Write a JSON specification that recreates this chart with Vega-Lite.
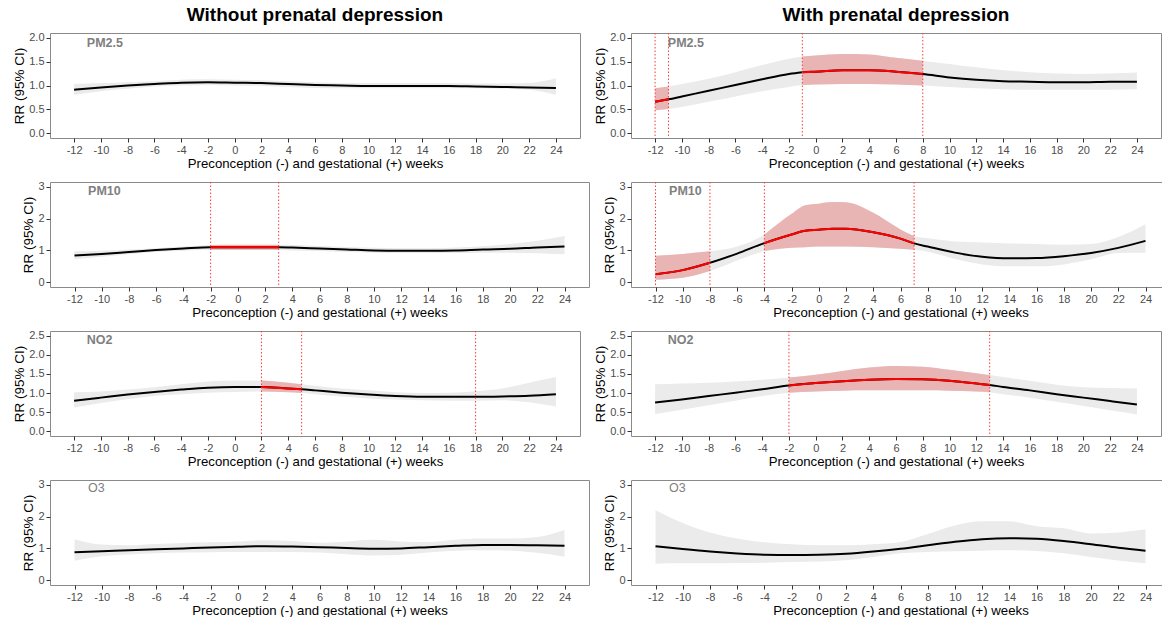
{
"$schema": "https://vega.github.io/schema/vega-lite/v6.json",
"padding": {"left": 12, "top": 5, "right": 3, "bottom": 0},
"background": "white",
"config": {
 "font": "Liberation Sans",
 "view": {"stroke": "#8A8A8A", "strokeWidth": 1},
 "axis": {"grid": false, "domain": false, "tickColor": "#333333", "tickSize": 4, "labelColor": "#4D4D4D", "labelFontSize": 11, "labelPadding": 2, "titleFontWeight": "normal", "titleFontSize": 13.5, "titleColor": "black", "titlePadding": 2},
 "axisX": {"titleFontSize": 13.2, "titlePadding": 2},
 "title": {"fontSize": 19, "fontWeight": "bold", "anchor": "middle", "offset": 7, "color": "black"}
},
"datasets": {
 "curves": [
  {"panel":"L1","week":-12,"rr":0.91,"lower":0.80,"upper":1.03},
  {"panel":"L1","week":-10,"rr":0.96,"lower":0.88,"upper":1.05},
  {"panel":"L1","week":-8,"rr":1.00,"lower":0.93,"upper":1.07},
  {"panel":"L1","week":-6,"rr":1.03,"lower":0.98,"upper":1.09},
  {"panel":"L1","week":-4,"rr":1.06,"lower":1.00,"upper":1.12},
  {"panel":"L1","week":-2,"rr":1.07,"lower":1.01,"upper":1.13},
  {"panel":"L1","week":0,"rr":1.06,"lower":1.00,"upper":1.12},
  {"panel":"L1","week":2,"rr":1.05,"lower":0.99,"upper":1.11},
  {"panel":"L1","week":4,"rr":1.03,"lower":0.97,"upper":1.09},
  {"panel":"L1","week":6,"rr":1.01,"lower":0.95,"upper":1.07},
  {"panel":"L1","week":8,"rr":1.00,"lower":0.94,"upper":1.05},
  {"panel":"L1","week":10,"rr":0.99,"lower":0.94,"upper":1.05},
  {"panel":"L1","week":12,"rr":0.99,"lower":0.94,"upper":1.05},
  {"panel":"L1","week":14,"rr":0.99,"lower":0.94,"upper":1.05},
  {"panel":"L1","week":16,"rr":0.99,"lower":0.94,"upper":1.05},
  {"panel":"L1","week":18,"rr":0.98,"lower":0.94,"upper":1.04},
  {"panel":"L1","week":20,"rr":0.97,"lower":0.93,"upper":1.04},
  {"panel":"L1","week":22,"rr":0.96,"lower":0.91,"upper":1.05},
  {"panel":"L1","week":24,"rr":0.95,"lower":0.80,"upper":1.15},

  {"panel":"R1","week":-12,"rr":0.66,"lower":0.48,"upper":0.94,"seg":"a"},
  {"panel":"R1","week":-11,"rr":0.71,"lower":0.51,"upper":0.98,"seg":"a"},
  {"panel":"R1","week":-10,"rr":0.77,"lower":0.55,"upper":1.03},
  {"panel":"R1","week":-8,"rr":0.89,"lower":0.66,"upper":1.14},
  {"panel":"R1","week":-6,"rr":1.01,"lower":0.77,"upper":1.28},
  {"panel":"R1","week":-4,"rr":1.13,"lower":0.88,"upper":1.43},
  {"panel":"R1","week":-2,"rr":1.24,"lower":0.97,"upper":1.56},
  {"panel":"R1","week":-1,"rr":1.28,"lower":1.01,"upper":1.61,"seg":"b"},
  {"panel":"R1","week":0,"rr":1.29,"lower":1.02,"upper":1.63,"seg":"b"},
  {"panel":"R1","week":2,"rr":1.32,"lower":1.03,"upper":1.66,"seg":"b"},
  {"panel":"R1","week":4,"rr":1.32,"lower":1.03,"upper":1.65,"seg":"b"},
  {"panel":"R1","week":6,"rr":1.29,"lower":1.02,"upper":1.58,"seg":"b"},
  {"panel":"R1","week":8,"rr":1.24,"lower":1.00,"upper":1.52,"seg":"b"},
  {"panel":"R1","week":10,"rr":1.17,"lower":0.97,"upper":1.45},
  {"panel":"R1","week":12,"rr":1.12,"lower":0.94,"upper":1.38},
  {"panel":"R1","week":14,"rr":1.09,"lower":0.92,"upper":1.32},
  {"panel":"R1","week":16,"rr":1.08,"lower":0.91,"upper":1.28},
  {"panel":"R1","week":18,"rr":1.07,"lower":0.91,"upper":1.25},
  {"panel":"R1","week":20,"rr":1.07,"lower":0.91,"upper":1.24},
  {"panel":"R1","week":22,"rr":1.08,"lower":0.91,"upper":1.25},
  {"panel":"R1","week":24,"rr":1.08,"lower":0.92,"upper":1.27},

  {"panel":"L2","week":-12,"rr":0.84,"lower":0.72,"upper":0.97},
  {"panel":"L2","week":-10,"rr":0.89,"lower":0.80,"upper":0.99},
  {"panel":"L2","week":-8,"rr":0.95,"lower":0.88,"upper":1.03},
  {"panel":"L2","week":-6,"rr":1.01,"lower":0.95,"upper":1.07},
  {"panel":"L2","week":-4,"rr":1.06,"lower":0.99,"upper":1.12},
  {"panel":"L2","week":-2,"rr":1.10,"lower":1.02,"upper":1.17,"seg":"a"},
  {"panel":"L2","week":0,"rr":1.10,"lower":1.02,"upper":1.18,"seg":"a"},
  {"panel":"L2","week":2,"rr":1.10,"lower":1.02,"upper":1.18,"seg":"a"},
  {"panel":"L2","week":3,"rr":1.10,"lower":1.01,"upper":1.18,"seg":"a"},
  {"panel":"L2","week":4,"rr":1.09,"lower":1.00,"upper":1.17},
  {"panel":"L2","week":6,"rr":1.06,"lower":0.98,"upper":1.14},
  {"panel":"L2","week":8,"rr":1.03,"lower":0.95,"upper":1.11},
  {"panel":"L2","week":10,"rr":1.00,"lower":0.93,"upper":1.08},
  {"panel":"L2","week":12,"rr":0.99,"lower":0.92,"upper":1.07},
  {"panel":"L2","week":14,"rr":0.99,"lower":0.92,"upper":1.07},
  {"panel":"L2","week":16,"rr":1.00,"lower":0.92,"upper":1.09},
  {"panel":"L2","week":18,"rr":1.03,"lower":0.93,"upper":1.13},
  {"panel":"L2","week":20,"rr":1.05,"lower":0.93,"upper":1.20},
  {"panel":"L2","week":22,"rr":1.09,"lower":0.91,"upper":1.30},
  {"panel":"L2","week":24,"rr":1.12,"lower":0.88,"upper":1.45},

  {"panel":"R2","week":-12,"rr":0.25,"lower":0.08,"upper":0.83,"seg":"a"},
  {"panel":"R2","week":-10,"rr":0.38,"lower":0.14,"upper":0.89,"seg":"a"},
  {"panel":"R2","week":-8,"rr":0.61,"lower":0.35,"upper":0.97,"seg":"a"},
  {"panel":"R2","week":-6,"rr":0.90,"lower":0.68,"upper":1.12},
  {"panel":"R2","week":-4,"rr":1.23,"lower":0.98,"upper":1.50,"seg":"b"},
  {"panel":"R2","week":-2,"rr":1.50,"lower":1.08,"upper":2.15,"seg":"b"},
  {"panel":"R2","week":-1,"rr":1.62,"lower":1.10,"upper":2.42,"seg":"b"},
  {"panel":"R2","week":0,"rr":1.65,"lower":1.12,"upper":2.47,"seg":"b"},
  {"panel":"R2","week":1,"rr":1.68,"lower":1.12,"upper":2.52,"seg":"b"},
  {"panel":"R2","week":2,"rr":1.68,"lower":1.12,"upper":2.51,"seg":"b"},
  {"panel":"R2","week":4,"rr":1.57,"lower":1.10,"upper":2.18,"seg":"b"},
  {"panel":"R2","week":6,"rr":1.37,"lower":1.05,"upper":1.66,"seg":"b"},
  {"panel":"R2","week":7,"rr":1.22,"lower":1.02,"upper":1.45,"seg":"b"},
  {"panel":"R2","week":8,"rr":1.12,"lower":0.96,"upper":1.38},
  {"panel":"R2","week":10,"rr":0.93,"lower":0.73,"upper":1.28},
  {"panel":"R2","week":12,"rr":0.80,"lower":0.56,"upper":1.25},
  {"panel":"R2","week":14,"rr":0.75,"lower":0.50,"upper":1.22},
  {"panel":"R2","week":16,"rr":0.76,"lower":0.50,"upper":1.20},
  {"panel":"R2","week":18,"rr":0.82,"lower":0.56,"upper":1.18},
  {"panel":"R2","week":20,"rr":0.92,"lower":0.72,"upper":1.20},
  {"panel":"R2","week":22,"rr":1.08,"lower":0.92,"upper":1.42},
  {"panel":"R2","week":24,"rr":1.30,"lower":0.93,"upper":1.82},

  {"panel":"L3","week":-12,"rr":0.80,"lower":0.62,"upper":1.02},
  {"panel":"L3","week":-10,"rr":0.88,"lower":0.74,"upper":1.04},
  {"panel":"L3","week":-8,"rr":0.96,"lower":0.84,"upper":1.09},
  {"panel":"L3","week":-6,"rr":1.03,"lower":0.92,"upper":1.15},
  {"panel":"L3","week":-4,"rr":1.09,"lower":0.97,"upper":1.23},
  {"panel":"L3","week":-2,"rr":1.14,"lower":1.01,"upper":1.30},
  {"panel":"L3","week":0,"rr":1.16,"lower":1.03,"upper":1.33},
  {"panel":"L3","week":2,"rr":1.16,"lower":1.04,"upper":1.33,"seg":"a"},
  {"panel":"L3","week":4,"rr":1.12,"lower":1.02,"upper":1.27,"seg":"a"},
  {"panel":"L3","week":5,"rr":1.10,"lower":1.00,"upper":1.23,"seg":"a"},
  {"panel":"L3","week":6,"rr":1.07,"lower":0.97,"upper":1.19},
  {"panel":"L3","week":8,"rr":1.01,"lower":0.91,"upper":1.12},
  {"panel":"L3","week":10,"rr":0.96,"lower":0.86,"upper":1.07},
  {"panel":"L3","week":12,"rr":0.92,"lower":0.83,"upper":1.02},
  {"panel":"L3","week":14,"rr":0.90,"lower":0.81,"upper":1.00},
  {"panel":"L3","week":16,"rr":0.90,"lower":0.80,"upper":1.01},
  {"panel":"L3","week":18,"rr":0.90,"lower":0.80,"upper":1.05},
  {"panel":"L3","week":20,"rr":0.91,"lower":0.81,"upper":1.12},
  {"panel":"L3","week":22,"rr":0.93,"lower":0.76,"upper":1.27},
  {"panel":"L3","week":24,"rr":0.97,"lower":0.65,"upper":1.42},

  {"panel":"R3","week":-12,"rr":0.75,"lower":0.45,"upper":1.23},
  {"panel":"R3","week":-10,"rr":0.83,"lower":0.56,"upper":1.25},
  {"panel":"R3","week":-8,"rr":0.92,"lower":0.68,"upper":1.27},
  {"panel":"R3","week":-6,"rr":1.01,"lower":0.80,"upper":1.30},
  {"panel":"R3","week":-4,"rr":1.10,"lower":0.92,"upper":1.35},
  {"panel":"R3","week":-2,"rr":1.20,"lower":1.01,"upper":1.41,"seg":"a"},
  {"panel":"R3","week":0,"rr":1.26,"lower":1.04,"upper":1.48,"seg":"a"},
  {"panel":"R3","week":2,"rr":1.31,"lower":1.06,"upper":1.58,"seg":"a"},
  {"panel":"R3","week":4,"rr":1.35,"lower":1.07,"upper":1.67,"seg":"a"},
  {"panel":"R3","week":6,"rr":1.37,"lower":1.07,"upper":1.71,"seg":"a"},
  {"panel":"R3","week":8,"rr":1.36,"lower":1.07,"upper":1.69,"seg":"a"},
  {"panel":"R3","week":10,"rr":1.32,"lower":1.06,"upper":1.61,"seg":"a"},
  {"panel":"R3","week":12,"rr":1.25,"lower":1.04,"upper":1.52,"seg":"a"},
  {"panel":"R3","week":13,"rr":1.21,"lower":1.02,"upper":1.47,"seg":"a"},
  {"panel":"R3","week":14,"rr":1.16,"lower":0.97,"upper":1.42},
  {"panel":"R3","week":16,"rr":1.07,"lower":0.88,"upper":1.32},
  {"panel":"R3","week":18,"rr":0.97,"lower":0.77,"upper":1.22},
  {"panel":"R3","week":20,"rr":0.88,"lower":0.66,"upper":1.15},
  {"panel":"R3","week":22,"rr":0.79,"lower":0.55,"upper":1.13},
  {"panel":"R3","week":24,"rr":0.70,"lower":0.44,"upper":1.12},

  {"panel":"L4","week":-12,"rr":0.88,"lower":0.61,"upper":1.29},
  {"panel":"L4","week":-10,"rr":0.91,"lower":0.75,"upper":1.12},
  {"panel":"L4","week":-8,"rr":0.94,"lower":0.81,"upper":1.10},
  {"panel":"L4","week":-6,"rr":0.97,"lower":0.85,"upper":1.14},
  {"panel":"L4","week":-4,"rr":1.00,"lower":0.87,"upper":1.17},
  {"panel":"L4","week":-2,"rr":1.03,"lower":0.88,"upper":1.19},
  {"panel":"L4","week":0,"rr":1.05,"lower":0.89,"upper":1.22},
  {"panel":"L4","week":2,"rr":1.07,"lower":0.89,"upper":1.26},
  {"panel":"L4","week":4,"rr":1.06,"lower":0.89,"upper":1.23},
  {"panel":"L4","week":6,"rr":1.04,"lower":0.87,"upper":1.18},
  {"panel":"L4","week":8,"rr":1.01,"lower":0.82,"upper":1.22},
  {"panel":"L4","week":10,"rr":0.99,"lower":0.78,"upper":1.27},
  {"panel":"L4","week":12,"rr":1.00,"lower":0.80,"upper":1.22},
  {"panel":"L4","week":14,"rr":1.04,"lower":0.87,"upper":1.20},
  {"panel":"L4","week":16,"rr":1.08,"lower":0.93,"upper":1.27},
  {"panel":"L4","week":18,"rr":1.11,"lower":0.94,"upper":1.31},
  {"panel":"L4","week":20,"rr":1.11,"lower":0.93,"upper":1.31},
  {"panel":"L4","week":22,"rr":1.10,"lower":0.86,"upper":1.36},
  {"panel":"L4","week":24,"rr":1.08,"lower":0.74,"upper":1.58},

  {"panel":"R4","week":-12,"rr":1.07,"lower":0.52,"upper":2.20},
  {"panel":"R4","week":-10,"rr":0.98,"lower":0.53,"upper":1.80},
  {"panel":"R4","week":-8,"rr":0.90,"lower":0.53,"upper":1.50},
  {"panel":"R4","week":-6,"rr":0.84,"lower":0.54,"upper":1.31},
  {"panel":"R4","week":-4,"rr":0.80,"lower":0.55,"upper":1.19},
  {"panel":"R4","week":-2,"rr":0.79,"lower":0.57,"upper":1.13},
  {"panel":"R4","week":0,"rr":0.80,"lower":0.59,"upper":1.10},
  {"panel":"R4","week":2,"rr":0.83,"lower":0.63,"upper":1.10},
  {"panel":"R4","week":4,"rr":0.90,"lower":0.73,"upper":1.13},
  {"panel":"R4","week":6,"rr":0.99,"lower":0.85,"upper":1.20},
  {"panel":"R4","week":8,"rr":1.10,"lower":0.89,"upper":1.45},
  {"panel":"R4","week":10,"rr":1.21,"lower":0.91,"upper":1.72},
  {"panel":"R4","week":12,"rr":1.29,"lower":0.93,"upper":1.85},
  {"panel":"R4","week":14,"rr":1.32,"lower":0.94,"upper":1.85},
  {"panel":"R4","week":16,"rr":1.30,"lower":0.92,"upper":1.70},
  {"panel":"R4","week":18,"rr":1.23,"lower":0.85,"upper":1.63},
  {"panel":"R4","week":20,"rr":1.13,"lower":0.73,"upper":1.47},
  {"panel":"R4","week":22,"rr":1.02,"lower":0.62,"upper":1.50},
  {"panel":"R4","week":24,"rr":0.93,"lower":0.53,"upper":1.60}
 ],
 "vlines": [
  {"panel":"L2","week":-2},{"panel":"L2","week":3},
  {"panel":"L3","week":2},{"panel":"L3","week":5},{"panel":"L3","week":18},
  {"panel":"R1","week":-12},{"panel":"R1","week":-11},{"panel":"R1","week":-1},{"panel":"R1","week":8},
  {"panel":"R2","week":-12},{"panel":"R2","week":-8},{"panel":"R2","week":-4},{"panel":"R2","week":7},
  {"panel":"R3","week":-2},{"panel":"R3","week":13}
 ],
 "labels": [
  {"panel":"L1","name":"PM2.5"},{"panel":"R1","name":"PM2.5"},
  {"panel":"L2","name":"PM10"},{"panel":"R2","name":"PM10"},
  {"panel":"L3","name":"NO2"},{"panel":"R3","name":"NO2"},
  {"panel":"L4","name":"O3"},{"panel":"R4","name":"O3"}
 ]
},
"spacing": 10,
"vconcat": [
 {"spacing": 12, "hconcat": [
  {"width": 530, "height": 105, "title": "Without prenatal depression",
   "layer": [
    {"data": {"name": "curves"}, "transform": [{"filter": "datum.panel=='L1'"}],
     "mark": {"type": "area", "color": "#EBEBEB", "interpolate": "monotone"},
     "encoding": {"x": {"field": "week", "type": "quantitative", "scale": {"domain": [-13.8, 25.8], "nice": false, "zero": false}, "axis": {"values": [-12,-10,-8,-6,-4,-2,0,2,4,6,8,10,12,14,16,18,20,22,24], "labelExpr": "replace(datum.label, '\u2212', '-')", "title": "Preconception (-) and gestational (+) weeks"}},
      "y": {"field": "lower", "type": "quantitative", "scale": {"domain": [-0.1, 2.1], "nice": false, "zero": false}, "axis": {"values": [0,0.5,1,1.5,2], "format": ".1f", "title": "RR (95% CI)"}},
      "y2": {"field": "upper"}}},
    {"mark": {"type": "rule", "color": "black", "strokeDash": [4,3], "strokeWidth": 1},
     "encoding": {"y": {"datum": 1, "type": "quantitative", "scale": {"domain": [-0.1, 2.1], "nice": false, "zero": false}, "axis": {"values": [0,0.5,1,1.5,2], "format": ".1f", "title": "RR (95% CI)"}}}},
    {"data": {"name": "curves"}, "transform": [{"filter": "datum.panel=='L1'"}],
     "mark": {"type": "line", "color": "black", "strokeWidth": 2, "interpolate": "monotone"},
     "encoding": {"x": {"field": "week", "type": "quantitative", "scale": {"domain": [-13.8, 25.8], "nice": false, "zero": false}, "axis": {"values": [-12,-10,-8,-6,-4,-2,0,2,4,6,8,10,12,14,16,18,20,22,24], "labelExpr": "replace(datum.label, '\u2212', '-')", "title": "Preconception (-) and gestational (+) weeks"}},
      "y": {"field": "rr", "type": "quantitative", "scale": {"domain": [-0.1, 2.1], "nice": false, "zero": false}, "axis": {"values": [0,0.5,1,1.5,2], "format": ".1f", "title": "RR (95% CI)"}}}},
    {"data": {"name": "labels"}, "transform": [{"filter": "datum.panel=='L1'"}],
     "mark": {"type": "text", "fontWeight": "bold", "color": "#7F7F7F", "fontSize": 12.5},
     "encoding": {"text": {"field": "name"}, "x": {"datum": -9.7, "type": "quantitative", "scale": {"domain": [-13.8, 25.8], "nice": false, "zero": false}, "axis": {"values": [-12,-10,-8,-6,-4,-2,0,2,4,6,8,10,12,14,16,18,20,22,24], "labelExpr": "replace(datum.label, '\u2212', '-')", "title": "Preconception (-) and gestational (+) weeks"}},
      "y": {"datum": 1.89, "type": "quantitative", "scale": {"domain": [-0.1, 2.1], "nice": false, "zero": false}, "axis": {"values": [0,0.5,1,1.5,2], "format": ".1f", "title": "RR (95% CI)"}}}}
   ]},
  {"width": 530, "height": 105, "title": "With prenatal depression",
   "layer": [
    {"data": {"name": "curves"}, "transform": [{"filter": "datum.panel=='R1'"}],
     "mark": {"type": "area", "color": "#EBEBEB", "interpolate": "monotone"},
     "encoding": {"x": {"field": "week", "type": "quantitative", "scale": {"domain": [-13.8, 25.8], "nice": false, "zero": false}, "axis": {"values": [-12,-10,-8,-6,-4,-2,0,2,4,6,8,10,12,14,16,18,20,22,24], "labelExpr": "replace(datum.label, '\u2212', '-')", "title": "Preconception (-) and gestational (+) weeks"}},
      "y": {"field": "lower", "type": "quantitative", "scale": {"domain": [-0.1, 2.1], "nice": false, "zero": false}, "axis": {"values": [0,0.5,1,1.5,2], "format": ".1f", "title": "RR (95% CI)"}},
      "y2": {"field": "upper"}}},
    {"data": {"name": "curves"}, "transform": [{"filter": "datum.panel=='R1' && isValid(datum.seg)"}],
     "mark": {"type": "area", "color": "#E9B4B4", "interpolate": "monotone"},
     "encoding": {"x": {"field": "week", "type": "quantitative", "scale": {"domain": [-13.8, 25.8], "nice": false, "zero": false}, "axis": {"values": [-12,-10,-8,-6,-4,-2,0,2,4,6,8,10,12,14,16,18,20,22,24], "labelExpr": "replace(datum.label, '\u2212', '-')", "title": "Preconception (-) and gestational (+) weeks"}},
      "y": {"field": "lower", "type": "quantitative", "scale": {"domain": [-0.1, 2.1], "nice": false, "zero": false}, "axis": {"values": [0,0.5,1,1.5,2], "format": ".1f", "title": "RR (95% CI)"}},
      "y2": {"field": "upper"}, "detail": {"field": "seg"}}},
    {"mark": {"type": "rule", "color": "black", "strokeDash": [4,3], "strokeWidth": 1},
     "encoding": {"y": {"datum": 1, "type": "quantitative", "scale": {"domain": [-0.1, 2.1], "nice": false, "zero": false}, "axis": {"values": [0,0.5,1,1.5,2], "format": ".1f", "title": "RR (95% CI)"}}}},
    {"data": {"name": "curves"}, "transform": [{"filter": "datum.panel=='R1'"}],
     "mark": {"type": "line", "color": "black", "strokeWidth": 2, "interpolate": "monotone"},
     "encoding": {"x": {"field": "week", "type": "quantitative", "scale": {"domain": [-13.8, 25.8], "nice": false, "zero": false}, "axis": {"values": [-12,-10,-8,-6,-4,-2,0,2,4,6,8,10,12,14,16,18,20,22,24], "labelExpr": "replace(datum.label, '\u2212', '-')", "title": "Preconception (-) and gestational (+) weeks"}},
      "y": {"field": "rr", "type": "quantitative", "scale": {"domain": [-0.1, 2.1], "nice": false, "zero": false}, "axis": {"values": [0,0.5,1,1.5,2], "format": ".1f", "title": "RR (95% CI)"}}}},
    {"data": {"name": "curves"}, "transform": [{"filter": "datum.panel=='R1' && isValid(datum.seg)"}],
     "mark": {"type": "line", "color": "#FF0000", "strokeWidth": 2, "interpolate": "monotone"},
     "encoding": {"x": {"field": "week", "type": "quantitative", "scale": {"domain": [-13.8, 25.8], "nice": false, "zero": false}, "axis": {"values": [-12,-10,-8,-6,-4,-2,0,2,4,6,8,10,12,14,16,18,20,22,24], "labelExpr": "replace(datum.label, '\u2212', '-')", "title": "Preconception (-) and gestational (+) weeks"}},
      "y": {"field": "rr", "type": "quantitative", "scale": {"domain": [-0.1, 2.1], "nice": false, "zero": false}, "axis": {"values": [0,0.5,1,1.5,2], "format": ".1f", "title": "RR (95% CI)"}}, "detail": {"field": "seg"}}},
    {"data": {"name": "vlines"}, "transform": [{"filter": "datum.panel=='R1'"}],
     "mark": {"type": "rule", "color": "#FF3B3B", "strokeDash": [1.5,2], "strokeWidth": 1},
     "encoding": {"x": {"field": "week", "type": "quantitative", "scale": {"domain": [-13.8, 25.8], "nice": false, "zero": false}, "axis": {"values": [-12,-10,-8,-6,-4,-2,0,2,4,6,8,10,12,14,16,18,20,22,24], "labelExpr": "replace(datum.label, '\u2212', '-')", "title": "Preconception (-) and gestational (+) weeks"}}}},
    {"data": {"name": "labels"}, "transform": [{"filter": "datum.panel=='R1'"}],
     "mark": {"type": "text", "fontWeight": "bold", "color": "#7F7F7F", "fontSize": 12.5},
     "encoding": {"text": {"field": "name"}, "x": {"datum": -9.7, "type": "quantitative", "scale": {"domain": [-13.8, 25.8], "nice": false, "zero": false}, "axis": {"values": [-12,-10,-8,-6,-4,-2,0,2,4,6,8,10,12,14,16,18,20,22,24], "labelExpr": "replace(datum.label, '\u2212', '-')", "title": "Preconception (-) and gestational (+) weeks"}},
      "y": {"datum": 1.89, "type": "quantitative", "scale": {"domain": [-0.1, 2.1], "nice": false, "zero": false}, "axis": {"values": [0,0.5,1,1.5,2], "format": ".1f", "title": "RR (95% CI)"}}}}
   ]}
 ]},
 {"spacing": 12, "hconcat": [
  {"width": 539, "height": 105,
   "layer": [
    {"data": {"name": "curves"}, "transform": [{"filter": "datum.panel=='L2'"}],
     "mark": {"type": "area", "color": "#EBEBEB", "interpolate": "monotone"},
     "encoding": {"x": {"field": "week", "type": "quantitative", "scale": {"domain": [-13.8, 25.8], "nice": false, "zero": false}, "axis": {"values": [-12,-10,-8,-6,-4,-2,0,2,4,6,8,10,12,14,16,18,20,22,24], "labelExpr": "replace(datum.label, '\u2212', '-')", "title": "Preconception (-) and gestational (+) weeks"}},
      "y": {"field": "lower", "type": "quantitative", "scale": {"domain": [-0.15, 3.15], "nice": false, "zero": false}, "axis": {"values": [0,1,2,3], "format": "d", "title": "RR (95% CI)"}},
      "y2": {"field": "upper"}}},
    {"data": {"name": "curves"}, "transform": [{"filter": "datum.panel=='L2' && isValid(datum.seg)"}],
     "mark": {"type": "area", "color": "#E9B4B4", "interpolate": "monotone"},
     "encoding": {"x": {"field": "week", "type": "quantitative", "scale": {"domain": [-13.8, 25.8], "nice": false, "zero": false}, "axis": {"values": [-12,-10,-8,-6,-4,-2,0,2,4,6,8,10,12,14,16,18,20,22,24], "labelExpr": "replace(datum.label, '\u2212', '-')", "title": "Preconception (-) and gestational (+) weeks"}},
      "y": {"field": "lower", "type": "quantitative", "scale": {"domain": [-0.15, 3.15], "nice": false, "zero": false}, "axis": {"values": [0,1,2,3], "format": "d", "title": "RR (95% CI)"}},
      "y2": {"field": "upper"}, "detail": {"field": "seg"}}},
    {"mark": {"type": "rule", "color": "black", "strokeDash": [4,3], "strokeWidth": 1},
     "encoding": {"y": {"datum": 1, "type": "quantitative", "scale": {"domain": [-0.15, 3.15], "nice": false, "zero": false}, "axis": {"values": [0,1,2,3], "format": "d", "title": "RR (95% CI)"}}}},
    {"data": {"name": "curves"}, "transform": [{"filter": "datum.panel=='L2'"}],
     "mark": {"type": "line", "color": "black", "strokeWidth": 2, "interpolate": "monotone"},
     "encoding": {"x": {"field": "week", "type": "quantitative", "scale": {"domain": [-13.8, 25.8], "nice": false, "zero": false}, "axis": {"values": [-12,-10,-8,-6,-4,-2,0,2,4,6,8,10,12,14,16,18,20,22,24], "labelExpr": "replace(datum.label, '\u2212', '-')", "title": "Preconception (-) and gestational (+) weeks"}},
      "y": {"field": "rr", "type": "quantitative", "scale": {"domain": [-0.15, 3.15], "nice": false, "zero": false}, "axis": {"values": [0,1,2,3], "format": "d", "title": "RR (95% CI)"}}}},
    {"data": {"name": "curves"}, "transform": [{"filter": "datum.panel=='L2' && isValid(datum.seg)"}],
     "mark": {"type": "line", "color": "#FF0000", "strokeWidth": 2, "interpolate": "monotone"},
     "encoding": {"x": {"field": "week", "type": "quantitative", "scale": {"domain": [-13.8, 25.8], "nice": false, "zero": false}, "axis": {"values": [-12,-10,-8,-6,-4,-2,0,2,4,6,8,10,12,14,16,18,20,22,24], "labelExpr": "replace(datum.label, '\u2212', '-')", "title": "Preconception (-) and gestational (+) weeks"}},
      "y": {"field": "rr", "type": "quantitative", "scale": {"domain": [-0.15, 3.15], "nice": false, "zero": false}, "axis": {"values": [0,1,2,3], "format": "d", "title": "RR (95% CI)"}}, "detail": {"field": "seg"}}},
    {"data": {"name": "vlines"}, "transform": [{"filter": "datum.panel=='L2'"}],
     "mark": {"type": "rule", "color": "#FF3B3B", "strokeDash": [1.5,2], "strokeWidth": 1},
     "encoding": {"x": {"field": "week", "type": "quantitative", "scale": {"domain": [-13.8, 25.8], "nice": false, "zero": false}, "axis": {"values": [-12,-10,-8,-6,-4,-2,0,2,4,6,8,10,12,14,16,18,20,22,24], "labelExpr": "replace(datum.label, '\u2212', '-')", "title": "Preconception (-) and gestational (+) weeks"}}}},
    {"data": {"name": "labels"}, "transform": [{"filter": "datum.panel=='L2'"}],
     "mark": {"type": "text", "fontWeight": "bold", "color": "#7F7F7F", "fontSize": 12.5},
     "encoding": {"text": {"field": "name"}, "x": {"datum": -9.8, "type": "quantitative", "scale": {"domain": [-13.8, 25.8], "nice": false, "zero": false}, "axis": {"values": [-12,-10,-8,-6,-4,-2,0,2,4,6,8,10,12,14,16,18,20,22,24], "labelExpr": "replace(datum.label, '\u2212', '-')", "title": "Preconception (-) and gestational (+) weeks"}},
      "y": {"datum": 2.88, "type": "quantitative", "scale": {"domain": [-0.15, 3.15], "nice": false, "zero": false}, "axis": {"values": [0,1,2,3], "format": "d", "title": "RR (95% CI)"}}}}
   ]},
  {"width": 539, "height": 105,
   "layer": [
    {"data": {"name": "curves"}, "transform": [{"filter": "datum.panel=='R2'"}],
     "mark": {"type": "area", "color": "#EBEBEB", "interpolate": "monotone"},
     "encoding": {"x": {"field": "week", "type": "quantitative", "scale": {"domain": [-13.8, 25.8], "nice": false, "zero": false}, "axis": {"values": [-12,-10,-8,-6,-4,-2,0,2,4,6,8,10,12,14,16,18,20,22,24], "labelExpr": "replace(datum.label, '\u2212', '-')", "title": "Preconception (-) and gestational (+) weeks"}},
      "y": {"field": "lower", "type": "quantitative", "scale": {"domain": [-0.15, 3.15], "nice": false, "zero": false}, "axis": {"values": [0,1,2,3], "format": "d", "title": "RR (95% CI)"}},
      "y2": {"field": "upper"}}},
    {"data": {"name": "curves"}, "transform": [{"filter": "datum.panel=='R2' && isValid(datum.seg)"}],
     "mark": {"type": "area", "color": "#E9B4B4", "interpolate": "monotone"},
     "encoding": {"x": {"field": "week", "type": "quantitative", "scale": {"domain": [-13.8, 25.8], "nice": false, "zero": false}, "axis": {"values": [-12,-10,-8,-6,-4,-2,0,2,4,6,8,10,12,14,16,18,20,22,24], "labelExpr": "replace(datum.label, '\u2212', '-')", "title": "Preconception (-) and gestational (+) weeks"}},
      "y": {"field": "lower", "type": "quantitative", "scale": {"domain": [-0.15, 3.15], "nice": false, "zero": false}, "axis": {"values": [0,1,2,3], "format": "d", "title": "RR (95% CI)"}},
      "y2": {"field": "upper"}, "detail": {"field": "seg"}}},
    {"mark": {"type": "rule", "color": "black", "strokeDash": [4,3], "strokeWidth": 1},
     "encoding": {"y": {"datum": 1, "type": "quantitative", "scale": {"domain": [-0.15, 3.15], "nice": false, "zero": false}, "axis": {"values": [0,1,2,3], "format": "d", "title": "RR (95% CI)"}}}},
    {"data": {"name": "curves"}, "transform": [{"filter": "datum.panel=='R2'"}],
     "mark": {"type": "line", "color": "black", "strokeWidth": 2, "interpolate": "monotone"},
     "encoding": {"x": {"field": "week", "type": "quantitative", "scale": {"domain": [-13.8, 25.8], "nice": false, "zero": false}, "axis": {"values": [-12,-10,-8,-6,-4,-2,0,2,4,6,8,10,12,14,16,18,20,22,24], "labelExpr": "replace(datum.label, '\u2212', '-')", "title": "Preconception (-) and gestational (+) weeks"}},
      "y": {"field": "rr", "type": "quantitative", "scale": {"domain": [-0.15, 3.15], "nice": false, "zero": false}, "axis": {"values": [0,1,2,3], "format": "d", "title": "RR (95% CI)"}}}},
    {"data": {"name": "curves"}, "transform": [{"filter": "datum.panel=='R2' && isValid(datum.seg)"}],
     "mark": {"type": "line", "color": "#FF0000", "strokeWidth": 2, "interpolate": "monotone"},
     "encoding": {"x": {"field": "week", "type": "quantitative", "scale": {"domain": [-13.8, 25.8], "nice": false, "zero": false}, "axis": {"values": [-12,-10,-8,-6,-4,-2,0,2,4,6,8,10,12,14,16,18,20,22,24], "labelExpr": "replace(datum.label, '\u2212', '-')", "title": "Preconception (-) and gestational (+) weeks"}},
      "y": {"field": "rr", "type": "quantitative", "scale": {"domain": [-0.15, 3.15], "nice": false, "zero": false}, "axis": {"values": [0,1,2,3], "format": "d", "title": "RR (95% CI)"}}, "detail": {"field": "seg"}}},
    {"data": {"name": "vlines"}, "transform": [{"filter": "datum.panel=='R2'"}],
     "mark": {"type": "rule", "color": "#FF3B3B", "strokeDash": [1.5,2], "strokeWidth": 1},
     "encoding": {"x": {"field": "week", "type": "quantitative", "scale": {"domain": [-13.8, 25.8], "nice": false, "zero": false}, "axis": {"values": [-12,-10,-8,-6,-4,-2,0,2,4,6,8,10,12,14,16,18,20,22,24], "labelExpr": "replace(datum.label, '\u2212', '-')", "title": "Preconception (-) and gestational (+) weeks"}}}},
    {"data": {"name": "labels"}, "transform": [{"filter": "datum.panel=='R2'"}],
     "mark": {"type": "text", "fontWeight": "bold", "color": "#7F7F7F", "fontSize": 12.5},
     "encoding": {"text": {"field": "name"}, "x": {"datum": -9.8, "type": "quantitative", "scale": {"domain": [-13.8, 25.8], "nice": false, "zero": false}, "axis": {"values": [-12,-10,-8,-6,-4,-2,0,2,4,6,8,10,12,14,16,18,20,22,24], "labelExpr": "replace(datum.label, '\u2212', '-')", "title": "Preconception (-) and gestational (+) weeks"}},
      "y": {"datum": 2.88, "type": "quantitative", "scale": {"domain": [-0.15, 3.15], "nice": false, "zero": false}, "axis": {"values": [0,1,2,3], "format": "d", "title": "RR (95% CI)"}}}}
   ]}
 ]},
 {"spacing": 12, "hconcat": [
  {"width": 530, "height": 105,
   "layer": [
    {"data": {"name": "curves"}, "transform": [{"filter": "datum.panel=='L3'"}],
     "mark": {"type": "area", "color": "#EBEBEB", "interpolate": "monotone"},
     "encoding": {"x": {"field": "week", "type": "quantitative", "scale": {"domain": [-13.8, 25.8], "nice": false, "zero": false}, "axis": {"values": [-12,-10,-8,-6,-4,-2,0,2,4,6,8,10,12,14,16,18,20,22,24], "labelExpr": "replace(datum.label, '\u2212', '-')", "title": "Preconception (-) and gestational (+) weeks"}},
      "y": {"field": "lower", "type": "quantitative", "scale": {"domain": [-0.125, 2.625], "nice": false, "zero": false}, "axis": {"values": [0,0.5,1,1.5,2,2.5], "format": ".1f", "title": "RR (95% CI)"}},
      "y2": {"field": "upper"}}},
    {"data": {"name": "curves"}, "transform": [{"filter": "datum.panel=='L3' && isValid(datum.seg)"}],
     "mark": {"type": "area", "color": "#E9B4B4", "interpolate": "monotone"},
     "encoding": {"x": {"field": "week", "type": "quantitative", "scale": {"domain": [-13.8, 25.8], "nice": false, "zero": false}, "axis": {"values": [-12,-10,-8,-6,-4,-2,0,2,4,6,8,10,12,14,16,18,20,22,24], "labelExpr": "replace(datum.label, '\u2212', '-')", "title": "Preconception (-) and gestational (+) weeks"}},
      "y": {"field": "lower", "type": "quantitative", "scale": {"domain": [-0.125, 2.625], "nice": false, "zero": false}, "axis": {"values": [0,0.5,1,1.5,2,2.5], "format": ".1f", "title": "RR (95% CI)"}},
      "y2": {"field": "upper"}, "detail": {"field": "seg"}}},
    {"mark": {"type": "rule", "color": "black", "strokeDash": [4,3], "strokeWidth": 1},
     "encoding": {"y": {"datum": 1, "type": "quantitative", "scale": {"domain": [-0.125, 2.625], "nice": false, "zero": false}, "axis": {"values": [0,0.5,1,1.5,2,2.5], "format": ".1f", "title": "RR (95% CI)"}}}},
    {"data": {"name": "curves"}, "transform": [{"filter": "datum.panel=='L3'"}],
     "mark": {"type": "line", "color": "black", "strokeWidth": 2, "interpolate": "monotone"},
     "encoding": {"x": {"field": "week", "type": "quantitative", "scale": {"domain": [-13.8, 25.8], "nice": false, "zero": false}, "axis": {"values": [-12,-10,-8,-6,-4,-2,0,2,4,6,8,10,12,14,16,18,20,22,24], "labelExpr": "replace(datum.label, '\u2212', '-')", "title": "Preconception (-) and gestational (+) weeks"}},
      "y": {"field": "rr", "type": "quantitative", "scale": {"domain": [-0.125, 2.625], "nice": false, "zero": false}, "axis": {"values": [0,0.5,1,1.5,2,2.5], "format": ".1f", "title": "RR (95% CI)"}}}},
    {"data": {"name": "curves"}, "transform": [{"filter": "datum.panel=='L3' && isValid(datum.seg)"}],
     "mark": {"type": "line", "color": "#FF0000", "strokeWidth": 2, "interpolate": "monotone"},
     "encoding": {"x": {"field": "week", "type": "quantitative", "scale": {"domain": [-13.8, 25.8], "nice": false, "zero": false}, "axis": {"values": [-12,-10,-8,-6,-4,-2,0,2,4,6,8,10,12,14,16,18,20,22,24], "labelExpr": "replace(datum.label, '\u2212', '-')", "title": "Preconception (-) and gestational (+) weeks"}},
      "y": {"field": "rr", "type": "quantitative", "scale": {"domain": [-0.125, 2.625], "nice": false, "zero": false}, "axis": {"values": [0,0.5,1,1.5,2,2.5], "format": ".1f", "title": "RR (95% CI)"}}, "detail": {"field": "seg"}}},
    {"data": {"name": "vlines"}, "transform": [{"filter": "datum.panel=='L3'"}],
     "mark": {"type": "rule", "color": "#FF3B3B", "strokeDash": [1.5,2], "strokeWidth": 1},
     "encoding": {"x": {"field": "week", "type": "quantitative", "scale": {"domain": [-13.8, 25.8], "nice": false, "zero": false}, "axis": {"values": [-12,-10,-8,-6,-4,-2,0,2,4,6,8,10,12,14,16,18,20,22,24], "labelExpr": "replace(datum.label, '\u2212', '-')", "title": "Preconception (-) and gestational (+) weeks"}}}},
    {"data": {"name": "labels"}, "transform": [{"filter": "datum.panel=='L3'"}],
     "mark": {"type": "text", "fontWeight": "bold", "color": "#7F7F7F", "fontSize": 12.5},
     "encoding": {"text": {"field": "name"}, "x": {"datum": -10.1, "type": "quantitative", "scale": {"domain": [-13.8, 25.8], "nice": false, "zero": false}, "axis": {"values": [-12,-10,-8,-6,-4,-2,0,2,4,6,8,10,12,14,16,18,20,22,24], "labelExpr": "replace(datum.label, '\u2212', '-')", "title": "Preconception (-) and gestational (+) weeks"}},
      "y": {"datum": 2.39, "type": "quantitative", "scale": {"domain": [-0.125, 2.625], "nice": false, "zero": false}, "axis": {"values": [0,0.5,1,1.5,2,2.5], "format": ".1f", "title": "RR (95% CI)"}}}}
   ]},
  {"width": 530, "height": 105,
   "layer": [
    {"data": {"name": "curves"}, "transform": [{"filter": "datum.panel=='R3'"}],
     "mark": {"type": "area", "color": "#EBEBEB", "interpolate": "monotone"},
     "encoding": {"x": {"field": "week", "type": "quantitative", "scale": {"domain": [-13.8, 25.8], "nice": false, "zero": false}, "axis": {"values": [-12,-10,-8,-6,-4,-2,0,2,4,6,8,10,12,14,16,18,20,22,24], "labelExpr": "replace(datum.label, '\u2212', '-')", "title": "Preconception (-) and gestational (+) weeks"}},
      "y": {"field": "lower", "type": "quantitative", "scale": {"domain": [-0.125, 2.625], "nice": false, "zero": false}, "axis": {"values": [0,0.5,1,1.5,2,2.5], "format": ".1f", "title": "RR (95% CI)"}},
      "y2": {"field": "upper"}}},
    {"data": {"name": "curves"}, "transform": [{"filter": "datum.panel=='R3' && isValid(datum.seg)"}],
     "mark": {"type": "area", "color": "#E9B4B4", "interpolate": "monotone"},
     "encoding": {"x": {"field": "week", "type": "quantitative", "scale": {"domain": [-13.8, 25.8], "nice": false, "zero": false}, "axis": {"values": [-12,-10,-8,-6,-4,-2,0,2,4,6,8,10,12,14,16,18,20,22,24], "labelExpr": "replace(datum.label, '\u2212', '-')", "title": "Preconception (-) and gestational (+) weeks"}},
      "y": {"field": "lower", "type": "quantitative", "scale": {"domain": [-0.125, 2.625], "nice": false, "zero": false}, "axis": {"values": [0,0.5,1,1.5,2,2.5], "format": ".1f", "title": "RR (95% CI)"}},
      "y2": {"field": "upper"}, "detail": {"field": "seg"}}},
    {"mark": {"type": "rule", "color": "black", "strokeDash": [4,3], "strokeWidth": 1},
     "encoding": {"y": {"datum": 1, "type": "quantitative", "scale": {"domain": [-0.125, 2.625], "nice": false, "zero": false}, "axis": {"values": [0,0.5,1,1.5,2,2.5], "format": ".1f", "title": "RR (95% CI)"}}}},
    {"data": {"name": "curves"}, "transform": [{"filter": "datum.panel=='R3'"}],
     "mark": {"type": "line", "color": "black", "strokeWidth": 2, "interpolate": "monotone"},
     "encoding": {"x": {"field": "week", "type": "quantitative", "scale": {"domain": [-13.8, 25.8], "nice": false, "zero": false}, "axis": {"values": [-12,-10,-8,-6,-4,-2,0,2,4,6,8,10,12,14,16,18,20,22,24], "labelExpr": "replace(datum.label, '\u2212', '-')", "title": "Preconception (-) and gestational (+) weeks"}},
      "y": {"field": "rr", "type": "quantitative", "scale": {"domain": [-0.125, 2.625], "nice": false, "zero": false}, "axis": {"values": [0,0.5,1,1.5,2,2.5], "format": ".1f", "title": "RR (95% CI)"}}}},
    {"data": {"name": "curves"}, "transform": [{"filter": "datum.panel=='R3' && isValid(datum.seg)"}],
     "mark": {"type": "line", "color": "#FF0000", "strokeWidth": 2, "interpolate": "monotone"},
     "encoding": {"x": {"field": "week", "type": "quantitative", "scale": {"domain": [-13.8, 25.8], "nice": false, "zero": false}, "axis": {"values": [-12,-10,-8,-6,-4,-2,0,2,4,6,8,10,12,14,16,18,20,22,24], "labelExpr": "replace(datum.label, '\u2212', '-')", "title": "Preconception (-) and gestational (+) weeks"}},
      "y": {"field": "rr", "type": "quantitative", "scale": {"domain": [-0.125, 2.625], "nice": false, "zero": false}, "axis": {"values": [0,0.5,1,1.5,2,2.5], "format": ".1f", "title": "RR (95% CI)"}}, "detail": {"field": "seg"}}},
    {"data": {"name": "vlines"}, "transform": [{"filter": "datum.panel=='R3'"}],
     "mark": {"type": "rule", "color": "#FF3B3B", "strokeDash": [1.5,2], "strokeWidth": 1},
     "encoding": {"x": {"field": "week", "type": "quantitative", "scale": {"domain": [-13.8, 25.8], "nice": false, "zero": false}, "axis": {"values": [-12,-10,-8,-6,-4,-2,0,2,4,6,8,10,12,14,16,18,20,22,24], "labelExpr": "replace(datum.label, '\u2212', '-')", "title": "Preconception (-) and gestational (+) weeks"}}}},
    {"data": {"name": "labels"}, "transform": [{"filter": "datum.panel=='R3'"}],
     "mark": {"type": "text", "fontWeight": "bold", "color": "#7F7F7F", "fontSize": 12.5},
     "encoding": {"text": {"field": "name"}, "x": {"datum": -10.1, "type": "quantitative", "scale": {"domain": [-13.8, 25.8], "nice": false, "zero": false}, "axis": {"values": [-12,-10,-8,-6,-4,-2,0,2,4,6,8,10,12,14,16,18,20,22,24], "labelExpr": "replace(datum.label, '\u2212', '-')", "title": "Preconception (-) and gestational (+) weeks"}},
      "y": {"datum": 2.39, "type": "quantitative", "scale": {"domain": [-0.125, 2.625], "nice": false, "zero": false}, "axis": {"values": [0,0.5,1,1.5,2,2.5], "format": ".1f", "title": "RR (95% CI)"}}}}
   ]}
 ]},
 {"spacing": 12, "hconcat": [
  {"width": 539, "height": 105,
   "layer": [
    {"data": {"name": "curves"}, "transform": [{"filter": "datum.panel=='L4'"}],
     "mark": {"type": "area", "color": "#EBEBEB", "interpolate": "monotone"},
     "encoding": {"x": {"field": "week", "type": "quantitative", "scale": {"domain": [-13.8, 25.8], "nice": false, "zero": false}, "axis": {"values": [-12,-10,-8,-6,-4,-2,0,2,4,6,8,10,12,14,16,18,20,22,24], "labelExpr": "replace(datum.label, '\u2212', '-')", "title": "Preconception (-) and gestational (+) weeks"}},
      "y": {"field": "lower", "type": "quantitative", "scale": {"domain": [-0.15, 3.15], "nice": false, "zero": false}, "axis": {"values": [0,1,2,3], "format": "d", "title": "RR (95% CI)"}},
      "y2": {"field": "upper"}}},
    {"mark": {"type": "rule", "color": "black", "strokeDash": [4,3], "strokeWidth": 1},
     "encoding": {"y": {"datum": 1, "type": "quantitative", "scale": {"domain": [-0.15, 3.15], "nice": false, "zero": false}, "axis": {"values": [0,1,2,3], "format": "d", "title": "RR (95% CI)"}}}},
    {"data": {"name": "curves"}, "transform": [{"filter": "datum.panel=='L4'"}],
     "mark": {"type": "line", "color": "black", "strokeWidth": 2, "interpolate": "monotone"},
     "encoding": {"x": {"field": "week", "type": "quantitative", "scale": {"domain": [-13.8, 25.8], "nice": false, "zero": false}, "axis": {"values": [-12,-10,-8,-6,-4,-2,0,2,4,6,8,10,12,14,16,18,20,22,24], "labelExpr": "replace(datum.label, '\u2212', '-')", "title": "Preconception (-) and gestational (+) weeks"}},
      "y": {"field": "rr", "type": "quantitative", "scale": {"domain": [-0.15, 3.15], "nice": false, "zero": false}, "axis": {"values": [0,1,2,3], "format": "d", "title": "RR (95% CI)"}}}},
    {"data": {"name": "labels"}, "transform": [{"filter": "datum.panel=='L4'"}],
     "mark": {"type": "text", "fontWeight": "normal", "color": "#7F7F7F", "fontSize": 12.5},
     "encoding": {"text": {"field": "name"}, "x": {"datum": -10.4, "type": "quantitative", "scale": {"domain": [-13.8, 25.8], "nice": false, "zero": false}, "axis": {"values": [-12,-10,-8,-6,-4,-2,0,2,4,6,8,10,12,14,16,18,20,22,24], "labelExpr": "replace(datum.label, '\u2212', '-')", "title": "Preconception (-) and gestational (+) weeks"}},
      "y": {"datum": 2.9, "type": "quantitative", "scale": {"domain": [-0.15, 3.15], "nice": false, "zero": false}, "axis": {"values": [0,1,2,3], "format": "d", "title": "RR (95% CI)"}}}}
   ]},
  {"width": 539, "height": 105,
   "layer": [
    {"data": {"name": "curves"}, "transform": [{"filter": "datum.panel=='R4'"}],
     "mark": {"type": "area", "color": "#EBEBEB", "interpolate": "monotone"},
     "encoding": {"x": {"field": "week", "type": "quantitative", "scale": {"domain": [-13.8, 25.8], "nice": false, "zero": false}, "axis": {"values": [-12,-10,-8,-6,-4,-2,0,2,4,6,8,10,12,14,16,18,20,22,24], "labelExpr": "replace(datum.label, '\u2212', '-')", "title": "Preconception (-) and gestational (+) weeks"}},
      "y": {"field": "lower", "type": "quantitative", "scale": {"domain": [-0.15, 3.15], "nice": false, "zero": false}, "axis": {"values": [0,1,2,3], "format": "d", "title": "RR (95% CI)"}},
      "y2": {"field": "upper"}}},
    {"mark": {"type": "rule", "color": "black", "strokeDash": [4,3], "strokeWidth": 1},
     "encoding": {"y": {"datum": 1, "type": "quantitative", "scale": {"domain": [-0.15, 3.15], "nice": false, "zero": false}, "axis": {"values": [0,1,2,3], "format": "d", "title": "RR (95% CI)"}}}},
    {"data": {"name": "curves"}, "transform": [{"filter": "datum.panel=='R4'"}],
     "mark": {"type": "line", "color": "black", "strokeWidth": 2, "interpolate": "monotone"},
     "encoding": {"x": {"field": "week", "type": "quantitative", "scale": {"domain": [-13.8, 25.8], "nice": false, "zero": false}, "axis": {"values": [-12,-10,-8,-6,-4,-2,0,2,4,6,8,10,12,14,16,18,20,22,24], "labelExpr": "replace(datum.label, '\u2212', '-')", "title": "Preconception (-) and gestational (+) weeks"}},
      "y": {"field": "rr", "type": "quantitative", "scale": {"domain": [-0.15, 3.15], "nice": false, "zero": false}, "axis": {"values": [0,1,2,3], "format": "d", "title": "RR (95% CI)"}}}},
    {"data": {"name": "labels"}, "transform": [{"filter": "datum.panel=='R4'"}],
     "mark": {"type": "text", "fontWeight": "normal", "color": "#7F7F7F", "fontSize": 12.5},
     "encoding": {"text": {"field": "name"}, "x": {"datum": -10.4, "type": "quantitative", "scale": {"domain": [-13.8, 25.8], "nice": false, "zero": false}, "axis": {"values": [-12,-10,-8,-6,-4,-2,0,2,4,6,8,10,12,14,16,18,20,22,24], "labelExpr": "replace(datum.label, '\u2212', '-')", "title": "Preconception (-) and gestational (+) weeks"}},
      "y": {"datum": 2.9, "type": "quantitative", "scale": {"domain": [-0.15, 3.15], "nice": false, "zero": false}, "axis": {"values": [0,1,2,3], "format": "d", "title": "RR (95% CI)"}}}}
   ]}
 ]}
]
}
